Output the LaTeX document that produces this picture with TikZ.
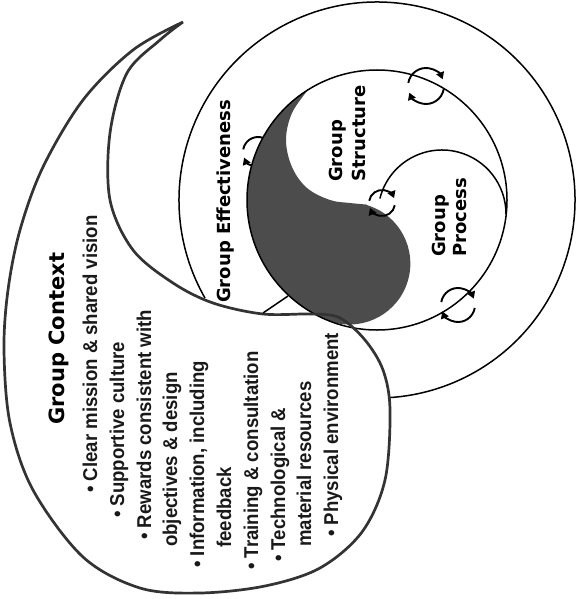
\documentclass[tikz,border=0pt]{standalone}
\usepackage{fontspec}
\setmainfont{Liberation Sans}
\newfontfamily\bulfont{Liberation Sans}[FakeStretch=0.93, UprightFont=*-Bold]
\newfontfamily\headfont{DejaVu Sans}
\usetikzlibrary{arrows.meta}
\newcommand\cyclesign[2]{%
  \draw[cyc] (#1) ++(170:#2) arc[start angle=170, end angle=22, radius=#2];
  \draw[cyc] (#1) ++(-10:#2) arc[start angle=-10, end angle=-158, radius=#2];
}
\begin{document}
\begin{tikzpicture}[x=1pt,y=1pt,
  ring/.style={line width=1.5pt, black},
  blobline/.style={line width=2.7pt, black!80, line join=round},
  darkfill/.style={fill=black!70},
  cyc/.style={line width=1.9pt, black, -{Triangle[length=7pt,width=8pt]}},
  bul/.style={rotate=90, anchor=base west, inner sep=0pt, font=\bulfont\fontsize{20}{20}\selectfont, text=black!90},
  head/.style={rotate=90, anchor=base west, inner sep=0pt, font=\headfont\bfseries\fontsize{18}{18}\selectfont}]
\useasboundingbox (0,0) rectangle (576,-599);
\coordinate (C) at (377,-200);

% outer spiral ring
\draw[ring] (C) ++(209.7:198) arc[start angle=209.7, end angle=-86.3, radius=198];
% inner (process) arc
\draw[ring] (442,-214) ++(166:64) arc[start angle=166, end angle=0, radius=64];

% cycle sign partly hidden by the dark shape
\cyclesign{258,-152}{15}

% dark yin shape
\fill[darkfill] (C) ++(122:130) arc[start angle=122, end angle=250, radius=130]
  arc[start angle=-106, end angle=72, radius=61]
  -- plot[smooth, tension=0.6] coordinates {(366,-204.5) (350,-203) (330,-200) (307,-188) (292,-167) (286,-140) (292,-113) (308.1,-89.8)} -- cycle;

% middle ring
\draw[ring] (C) circle[radius=130];

% group context blob
\draw[blobline] plot[smooth, tension=0.55] coordinates {(183,-22) (160,-40) (127,-73) (110,-133) (110,-200) (133,-250) (173,-283) (213,-303) (263,-314) (313,-314) (340,-318) (365,-340) (383,-370) (390,-410) (385,-480) (362,-532) (320,-568) (265,-586) (200,-593) (140,-588) (83,-557) (33,-490) (10,-423) (4,-350) (8,-290) (20,-230) (43,-167) (83,-100) (133,-50) (183,-22)};

\draw[ring] (263,-313) -- (288,-296);

% cycle signs
\cyclesign{426,-86}{18}
\cyclesign{458,-305}{17}
\cyclesign{382,-203}{13}

% texts
\node[head] (ge) at (230,-303) {Group Effectiveness};
\node[head] (gs1) at (342,-182) {Group};
\node[head] (gs2) at (365,-182) {Structure};
\node[head] (gp1) at (445,-257) {Group};
\node[head] (gp2) at (466,-257) {Process};

\node[head, font=\headfont\bfseries\fontsize{21}{21}\selectfont] (gc) at (64,-425) {Group Context};
\node[bul] (l1) at (97,-493) {• Clear mission \& shared vision};
\node[bul] (l2) at (124,-518) {• Supportive culture};
\node[bul] (l3) at (151,-540) {• Rewards consistent with};
\node[bul] (l4) at (177,-547) {objectives \& design};
\node[bul] (l5) at (204,-568) {• Information, including};
\node[bul] (l6) at (231,-548) {feedback};
\node[bul] (l7) at (258,-570) {• Training \& consultation};
\node[bul] (l8) at (285,-562) {• Technological \&};
\node[bul] (l9) at (311,-547) {material resources};
\node[bul] (l10) at (338,-537) {• Physical environment};
\end{tikzpicture}
\end{document}
